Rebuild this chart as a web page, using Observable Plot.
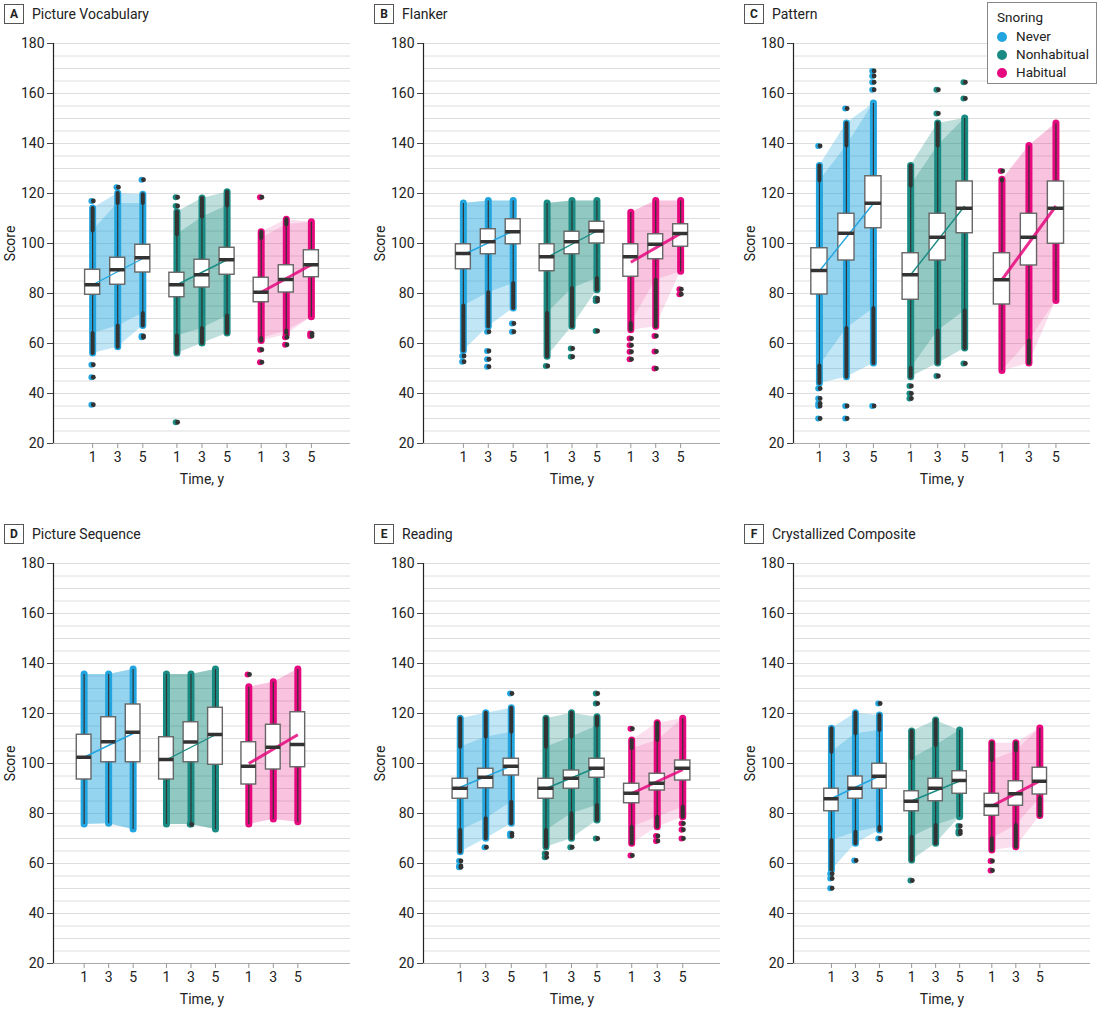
<!DOCTYPE html>
<html>
<head>
<meta charset="utf-8">
<script src="https://cdn.jsdelivr.net/npm/d3@7"></script>
<script src="https://cdn.jsdelivr.net/npm/@observablehq/plot@0.6"></script>
<style>
  html, body { margin: 0; padding: 0; background: #fff; }
  body { width: 1104px; height: 1016px; overflow: hidden; position: relative;
         font-family: Roboto, "Liberation Sans", sans-serif; color: #222; }
  .panel { position: absolute; width: 370px; height: 500px; }
  .panel svg { max-width: none !important; width: 370px; height: 500px; }
  .title { position: absolute; font-size: 14px; color: #222; white-space: nowrap; height: 20px; line-height: 20px; }
  .letter { position: absolute; left: 0; top: 0; width: 18px; height: 18px; border: 1px solid #555;
            text-align: center; line-height: 18px; font-size: 12px; font-weight: bold; }
  .ttext { position: absolute; left: 28px; top: 0; }
  .legend { position: absolute; left: 987px; top: 2px; width: 108px; height: 80px; border: 1px solid #888;
            background: #fff; font-size: 13.5px; }
  .legend .lt { position: absolute; left: 9px; top: 6px; }
  .legend .item { position: absolute; left: 9px; height: 18px; line-height: 18px; }
  .legend .sw { display: inline-block; width: 10px; height: 10px; border-radius: 50%; vertical-align: -1px; margin-right: 9px; }
</style>
</head>
<body>
<script>
// ---------------- data ----------------
const groups = ["Never", "Nonhabitual", "Habitual"];
const groupColors = ["#22a5de", "#1a8b83", "#e5087e"];
const times = [1, 3, 5];
const panelLetters = ["A", "B", "C", "D", "E", "F"];
const panelTitles = ["Picture Vocabulary", "Flanker", "Pattern", "Picture Sequence", "Reading", "Crystallized Composite"];
const yTicks = [20, 40, 60, 80, 100, 120, 140, 160, 180];

// box rows: [group index, time, lowest point, lower whisker, Q1, median, Q3, upper whisker, highest point]
const vocabBoxes = [
  [0, 1, 56, 64, 79.5, 83.5, 89.5, 105, 114],
  [0, 3, 58.5, 67, 83.5, 89.5, 94.3, 116, 120],
  [0, 5, 67, 72, 88.4, 94.3, 99.5, 116, 119.5],
  [1, 1, 56, 63, 78.5, 83.5, 88.3, 103.5, 112.5],
  [1, 3, 60, 66, 82.4, 87.5, 93.5, 110.5, 118],
  [1, 5, 64, 71, 87.5, 93.5, 98.3, 115, 120.5],
  [2, 1, 61, 62, 76.5, 80.5, 86.3, 102, 104.5],
  [2, 3, 63.5, 65, 80.4, 85.6, 91.3, 107.5, 109.5],
  [2, 5, 70.5, 70.5, 86.5, 91.5, 97.3, 108.5, 108.5]
];
const vocabOutliers = [
  [0, 1, 117], [0, 1, 51.5], [0, 1, 46.5], [0, 1, 35.5],
  [0, 3, 122.5], [0, 5, 125.5], [0, 5, 63], [0, 5, 62.5],
  [1, 1, 118.5], [1, 1, 115], [1, 1, 28.5],
  [2, 1, 118.5], [2, 1, 57.5], [2, 1, 52.5], [2, 3, 59.5], [2, 3, 62.5], [2, 5, 64], [2, 5, 63]
];
const vocabTrend = [[0, 83.5, 94], [1, 83.5, 93.5], [2, 80.5, 91.5]];

const flankerBoxes = [
  [0, 1, 57, 75, 89.7, 96, 99.7, 116, 116],
  [0, 3, 66.7, 80.3, 95.7, 100.7, 105.7, 117, 117],
  [0, 5, 74, 84, 99.7, 104.7, 109.7, 117, 117],
  [1, 1, 54.7, 72, 88.9, 94.7, 99.7, 116, 116],
  [1, 3, 66.7, 82, 95.7, 100.7, 104.7, 117, 117],
  [1, 5, 81.3, 86, 100, 105, 108.7, 117, 117],
  [2, 1, 65.3, 68, 86.7, 94.7, 99.7, 112.3, 112.3],
  [2, 3, 66.7, 85.3, 93.7, 99.7, 103.7, 117, 117],
  [2, 5, 88.7, 88.7, 98.7, 104, 107.7, 117, 117]
];
const flankerOutliers = [
  [0, 1, 55], [0, 1, 52.7], [0, 3, 64.7], [0, 3, 57], [0, 3, 53.7], [0, 3, 50.7], [0, 5, 68], [0, 5, 64.7],
  [1, 1, 51], [1, 3, 58], [1, 3, 54.7], [1, 5, 78], [1, 5, 77], [1, 5, 65],
  [2, 1, 62], [2, 1, 59.3], [2, 1, 56.7], [2, 1, 53.7], [2, 3, 63], [2, 3, 56.8], [2, 3, 50], [2, 5, 81.7], [2, 5, 79.7]
];
const flankerTrend = [[0, 95.5, 105], [1, 94.5, 105], [2, 92.5, 104]];

const patternBoxes = [
  [0, 1, 44, 51, 79.6, 89.2, 98.1, 125, 131],
  [0, 3, 46.5, 66, 93.2, 104.1, 111.9, 139, 148],
  [0, 5, 52, 74, 106.1, 116.1, 126.9, 156, 156],
  [1, 1, 46.5, 50, 77.5, 87.5, 96.1, 123, 131],
  [1, 3, 52, 65, 93.2, 102.5, 111.9, 139, 148],
  [1, 5, 58, 73, 104.1, 114.1, 124.8, 150, 150],
  [2, 1, 49, 49, 75.6, 85.5, 96.1, 125, 125.5],
  [2, 3, 52, 61, 91.2, 102.5, 111.9, 139, 139],
  [2, 5, 77, 77, 99.9, 114.1, 124.8, 148, 148]
];
const patternOutliers = [
  [0, 1, 139], [0, 1, 42], [0, 1, 38], [0, 1, 36], [0, 1, 35], [0, 1, 30],
  [0, 3, 154], [0, 3, 35], [0, 3, 30],
  [0, 5, 161.5], [0, 5, 164.5], [0, 5, 167], [0, 5, 169], [0, 5, 35],
  [1, 1, 43], [1, 1, 40], [1, 1, 38], [1, 3, 152], [1, 3, 161.5], [1, 3, 47],
  [1, 5, 158], [1, 5, 164.5], [1, 5, 52],
  [2, 1, 129]
];
const patternTrend = [[0, 89, 116], [1, 87.5, 115], [2, 85.5, 115]];

const sequenceBoxes = [
  [0, 1, 75.6, 75.6, 93.6, 102.5, 111.5, 135.6, 135.6],
  [0, 3, 75.9, 75.9, 100.5, 108.7, 118.5, 135.6, 135.6],
  [0, 5, 73.6, 73.6, 100.5, 112.5, 123.6, 137.6, 137.6],
  [1, 1, 75.6, 75.6, 93.6, 101.6, 110.5, 135.6, 135.6],
  [1, 3, 75.6, 75.6, 100.5, 108.6, 116.5, 135.6, 135.6],
  [1, 5, 73.6, 73.6, 99.5, 111.6, 122.3, 137.6, 137.6],
  [2, 1, 75.6, 75.6, 91.6, 98.9, 108.5, 130.5, 130.5],
  [2, 3, 77.6, 77.6, 97.6, 106.5, 115.5, 132.5, 132.5],
  [2, 5, 76.5, 76.5, 98.5, 107.6, 120.5, 137.6, 137.6]
];
const sequenceOutliers = [[2, 1, 135.6], [1, 3, 75.6]];
const sequenceTrend = [[0, 102.5, 112], [1, 101.5, 111.5], [2, 100, 111.5]];

const readingBoxes = [
  [0, 1, 64.5, 73.2, 85.9, 90.1, 93.9, 106.5, 117.9],
  [0, 3, 69.9, 77.9, 90.1, 94.5, 97.9, 110.5, 120.1],
  [0, 5, 75.9, 84.5, 95.2, 98.9, 101.9, 112.5, 122.1],
  [1, 1, 66.5, 73.2, 85.9, 90.1, 93.9, 106.5, 117.9],
  [1, 3, 69.9, 79.9, 89.9, 94.1, 97.2, 110.5, 120.1],
  [1, 5, 77.2, 83.2, 94.3, 98.1, 101.9, 115, 118.5],
  [2, 1, 67.9, 74.5, 84.1, 88.1, 91.9, 105.9, 109.2],
  [2, 3, 74.5, 78.5, 89.2, 92.1, 95.9, 109.2, 116.1],
  [2, 5, 78.5, 82.5, 93.2, 98.1, 101.2, 117.9, 117.9]
];
const readingOutliers = [
  [0, 1, 61], [0, 1, 59], [0, 1, 58.5], [0, 3, 66.5], [0, 5, 128], [0, 5, 72], [0, 5, 71],
  [1, 1, 64], [1, 1, 62.5], [1, 3, 66.5], [1, 5, 128], [1, 5, 124], [1, 5, 70],
  [2, 1, 113.9], [2, 1, 63.2], [2, 3, 71], [2, 3, 69], [2, 5, 76], [2, 5, 73.5], [2, 5, 70]
];
const readingTrend = [[0, 90.5, 99], [1, 90, 98.5], [2, 88, 97.5]];

const crystalBoxes = [
  [0, 1, 57.2, 69.2, 80.9, 85.9, 89.9, 104.5, 113.9],
  [0, 3, 67.9, 72.5, 85.9, 90.1, 94.8, 111.9, 120.1],
  [0, 5, 73.2, 74.5, 89.9, 94.9, 99.9, 113.2, 119.2],
  [1, 1, 61.2, 70.5, 80.9, 84.9, 88.9, 101.9, 112.8],
  [1, 3, 67.9, 75.2, 84.9, 90.1, 93.9, 107.2, 117.2],
  [1, 5, 78.5, 78.5, 87.9, 93.2, 96.9, 113.2, 113.2],
  [2, 1, 65.2, 69.9, 79.1, 83.2, 87.9, 101.2, 108.1],
  [2, 3, 66.5, 75.2, 83.1, 87.9, 92.9, 105, 108.1],
  [2, 5, 79, 86, 87.6, 92.9, 98.3, 114, 114]
];
const crystalOutliers = [
  [0, 1, 55.9], [0, 1, 54], [0, 1, 50.1], [0, 3, 61.2], [0, 5, 124], [0, 5, 70],
  [1, 1, 53.2], [1, 5, 75], [1, 5, 73], [1, 5, 72],
  [2, 1, 61], [2, 1, 57.2]
];
const crystalTrend = [[0, 86, 95], [1, 85, 93], [2, 83, 93]];

// ---------------- layout (not data) ----------------
const boxSets = [vocabBoxes, flankerBoxes, patternBoxes, sequenceBoxes, readingBoxes, crystalBoxes];
const outlierSets = [vocabOutliers, flankerOutliers, patternOutliers, sequenceOutliers, readingOutliers, crystalOutliers];
const trendSets = [vocabTrend, flankerTrend, patternTrend, sequenceTrend, readingTrend, crystalTrend];
// x domain per panel, in slot units (1 unit = gap between consecutive times), and group step
const xLayouts = [
  {lo: -1.56, hi: 10.28, G: 3.36},
  {lo: -1.6, hi: 10.32, G: 3.36},
  {lo: -0.96, hi: 10.04, G: 3.38},
  {lo: -1.25, hi: 10.87, G: 3.36},
  {lo: -1.44, hi: 10.2, G: 3.36},
  {lo: -1.58, hi: 10.79, G: 3.34}
];
const FONT = "Roboto, 'Liberation Sans', sans-serif";
const gridVals = d3.range(25, 181, 5);

function makePanel(i) {
  const {lo, hi, G} = xLayouts[i];
  const pos = (g, t) => g * G + (t - 1) / 2;
  const boxes = boxSets[i].map(([g, t, l, wl, q1, med, q3, wh, h]) =>
    ({g, t, x: pos(g, t), lo: l, wlo: wl, q1, med, q3, whi: wh, hi: h}));
  const outs = outlierSets[i].map(([g, t, v]) => ({g, t, x: pos(g, t), v}));
  const trends = trendSets[i].map(([g, s, e]) => ({g, x1: pos(g, 1), x2: pos(g, 5), s, e}));
  const xTicks = [];
  const tickLabel = new Map();
  for (let g = 0; g < 3; g++) for (const t of times) { const p = pos(g, t); xTicks.push(p); tickLabel.set(p, String(t)); }

  const marks = [
    Plot.ruleY(gridVals, {stroke: "#dedede", strokeWidth: 1}),
    Plot.ruleY([20], {stroke: "#aaa", strokeWidth: 1})
  ];
  for (let g = 0; g < 3; g++) {
    const c = groupColors[g];
    const gb = boxes.filter(d => d.g === g);
    const op = g === 2 ? 0.13 : 0.28;
    marks.push(Plot.areaY(gb, {x: "x", y1: "lo", y2: "hi", fill: c, fillOpacity: op}));
    marks.push(Plot.areaY(gb, {x: "x", y1: "wlo", y2: "whi", fill: c, fillOpacity: op}));
  }
  for (let g = 0; g < 3; g++) {
    const c = groupColors[g];
    const gb = boxes.filter(d => d.g === g);
    const go = outs.filter(d => d.g === g);
    marks.push(Plot.ruleX(gb, {x: "x", y1: "lo", y2: "hi", stroke: c, strokeWidth: 7, strokeLinecap: "round"}));
    marks.push(Plot.ruleX(gb.filter(d => d.hi > d.whi), {x: "x", y1: "whi", y2: "hi", stroke: "#333", strokeWidth: 4, strokeLinecap: "round"}));
    marks.push(Plot.ruleX(gb.filter(d => d.wlo > d.lo), {x: "x", y1: "lo", y2: "wlo", stroke: "#333", strokeWidth: 4, strokeLinecap: "round"}));
    marks.push(Plot.dot(go, {x: "x", y: "v", r: 2.9, fill: c, dx: -1.3}));
    marks.push(Plot.dot(go, {x: "x", y: "v", r: 2.4, fill: "#333", dx: 0.7}));
  }
  marks.push(
    Plot.ruleX(boxes, {x: "x", y1: "wlo", y2: "q1", stroke: "#333", strokeWidth: 1.2}),
    Plot.ruleX(boxes, {x: "x", y1: "q3", y2: "whi", stroke: "#333", strokeWidth: 1.2}),
    Plot.rect(boxes, {x1: d => d.x - 0.3, x2: d => d.x + 0.3, y1: "q1", y2: "q3", fill: "white", stroke: "#666", strokeWidth: 1.4})
  );
  for (let g = 0; g < 3; g++) {
    marks.push(Plot.link(trends.filter(d => d.g === g), {x1: "x1", x2: "x2", y1: "s", y2: "e",
      stroke: groupColors[g], strokeWidth: g === 2 ? 3 : 1.4, strokeOpacity: g === 2 ? 0.85 : 1}));
  }
  marks.push(
    Plot.ruleY(boxes, {y: "med", x1: d => d.x - 0.3, x2: d => d.x + 0.3, stroke: "#333", strokeWidth: 3.5}),
    Plot.ruleX([lo], {stroke: "#222", strokeWidth: 1.2}),
    Plot.axisY({ticks: yTicks, tickSize: 6, tickPadding: 3, stroke: "#444", fill: "#222",
      label: "Score", labelAnchor: "center", labelArrow: "none", labelOffset: 48}),
    Plot.axisX({ticks: xTicks, tickFormat: d => tickLabel.get(d), tickSize: 5, tickPadding: 4, stroke: "#999", fill: "#222",
      label: "Time, y", labelAnchor: "center", labelArrow: "none", labelOffset: 40})
  );
  return Plot.plot({
    width: 370, height: 500,
    marginLeft: 53, marginRight: 20, marginTop: 43, marginBottom: 57,
    x: {domain: [lo, hi]},
    y: {domain: [20, 180]},
    style: {fontFamily: FONT, fontSize: "14px", color: "#222", background: "transparent", overflow: "visible", maxWidth: "none"},
    marks
  });
}

for (let i = 0; i < 6; i++) {
  const col = i % 3, row = Math.floor(i / 3);
  const wrap = document.createElement("div");
  wrap.className = "panel";
  wrap.style.left = (col * 370) + "px";
  wrap.style.top = (row * 520) + "px";
  wrap.appendChild(makePanel(i));
  document.body.appendChild(wrap);
  const t = document.createElement("div");
  t.className = "title";
  t.style.left = (col * 370 + 4) + "px";
  t.style.top = (row * 520 + 4) + "px";
  t.innerHTML = `<span class="letter">${panelLetters[i]}</span><span class="ttext">${panelTitles[i]}</span>`;
  document.body.appendChild(t);
}

const lg = document.createElement("div");
lg.className = "legend";
let html = `<div class="lt">Snoring</div>`;
groups.forEach((g, k) => {
  html += `<div class="item" style="top:${24 + k * 18}px"><span class="sw" style="background:${groupColors[k]}"></span>${g}</div>`;
});
lg.innerHTML = html;
document.body.appendChild(lg);
</script>
</body>
</html>
